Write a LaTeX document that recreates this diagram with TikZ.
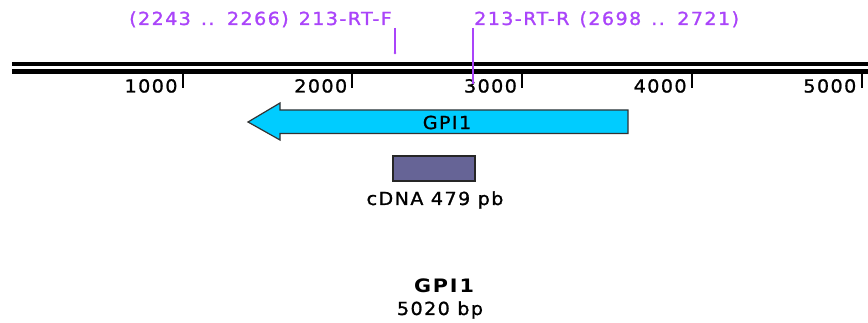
\documentclass[tikz,border=0pt]{standalone}
\usepackage{fontspec}
\newfontfamily\mapfont{DejaVu Sans}[FakeStretch=1.06, LetterSpace=8, FakeBold=1.2]
\newfontfamily\mapfontbold{DejaVu Sans Bold}[FakeStretch=1.12, LetterSpace=10]
\newcommand\primerwords{\spaceskip=10pt plus 1pt\relax}
\definecolor{primer}{RGB}{170,68,250}
\definecolor{genecyan}{RGB}{0,204,255}
\definecolor{cdnafill}{RGB}{102,100,150}
\begin{document}
\begin{tikzpicture}[x=1pt,y=-1pt,
  lbl/.style={font=\fontsize{18pt}{21pt}\mapfont, inner sep=0pt},
  primerlbl/.style={lbl, text=primer},
  primerline/.style={draw=primer, line width=1.5pt},
  backbone/.style={line width=4.5pt, line cap=butt},
  tick/.style={line width=2pt}]
\useasboundingbox (0,0) rectangle (868,323);
\fill[white] (0,0) rectangle (868,323);

% sequence backbone (double line)
\draw[backbone] (12,64) -- (868,64);
\draw[backbone] (12,71.5) -- (868,71.5);

% scale ticks every 1000 bp
\foreach \k in {1,...,5} {
  \pgfmathsetmacro\tx{13+169.7*\k}
  \draw[tick] (\tx,74) -- (\tx,88);
  \node[lbl, anchor=base east] (t\k) at (\tx-5,92.5) {\k000};
}

% primers
\node[primerlbl, anchor=base east] (pF) at (392,25) {\primerwords (2243 .. 2266) 213-RT-F};
\node[primerlbl, anchor=base west] (pR) at (474,25) {\primerwords 213-RT-R (2698 .. 2721)};
\coordinate (pFtop) at (395,28);
\coordinate (pFsite) at (395,53);
\coordinate (pRtop) at (473,28);
\coordinate (pRsite) at (473,84);
\draw[primerline] (pFtop) -- (pFsite);
\fill[primer] (pFsite) circle (1.3pt);
\draw[primerline] (pRtop) -- (pRsite);

% gene GPI1 (reverse strand)
\draw[fill=genecyan, draw=black!80, line width=1.2pt]
  (628,110) -- (280,110) -- (280,103) -- (248,122) -- (280,140)
  -- (280,133.5) -- (628,133.5) -- cycle;
\node[lbl] (gene) at (447,122.5) {GPI1};

% cDNA fragment
\node[draw=black!85, fill=cdnafill, line width=1.2pt, minimum width=82pt,
  minimum height=25pt, inner sep=0pt] (cdna) at (434,168.5) {};
\node[lbl, anchor=base] (cdnalbl) at (435,205) {cDNA 479 pb};

% title
\node[font=\fontsize{18.5pt}{21pt}\mapfontbold, inner sep=0pt, anchor=base] (title) at (444,293) {GPI1};
\node[lbl, anchor=base] (size) at (440,315) {5020 bp};
\end{tikzpicture}
\end{document}
